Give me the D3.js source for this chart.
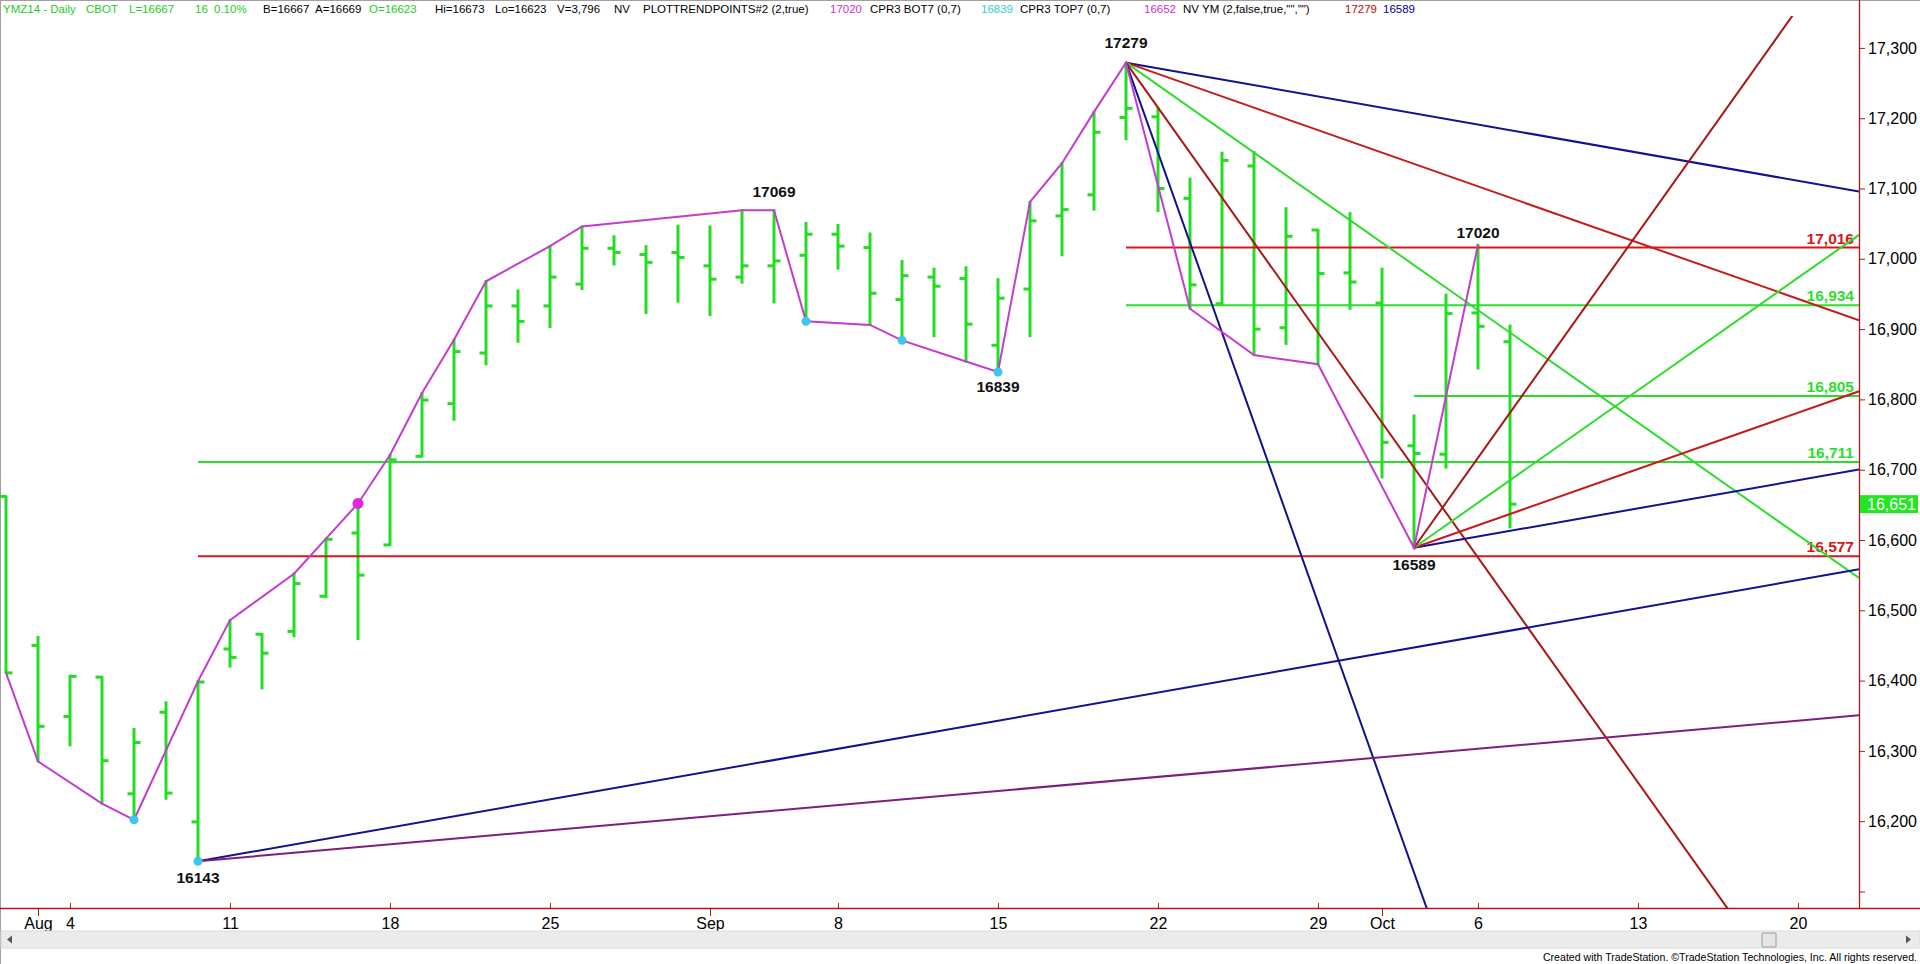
<!DOCTYPE html>
<html><head><meta charset="utf-8">
<script src="https://cdn.jsdelivr.net/npm/d3@7"></script>
<style>
html,body{margin:0;padding:0;background:#fff;overflow:hidden}
svg{display:block;font-family:"Liberation Sans",Arial,sans-serif}
</style></head><body>
<svg id="c" width="1920" height="964"></svg>
<script>
// ---------------- DATA ----------------
const barDates = ["Jul 31","Aug 1","Aug 4","Aug 5","Aug 6","Aug 7","Aug 8","Aug 11","Aug 12","Aug 13","Aug 14","Aug 15","Aug 18","Aug 19","Aug 20","Aug 21","Aug 22","Aug 25","Aug 26","Aug 27","Aug 28","Aug 29","Sep 2","Sep 3","Sep 4","Sep 5","Sep 8","Sep 9","Sep 10","Sep 11","Sep 12","Sep 15","Sep 16","Sep 17","Sep 18","Sep 19","Sep 22","Sep 23","Sep 24","Sep 25","Sep 26","Sep 29","Sep 30","Oct 1","Oct 2","Oct 3","Oct 6","Oct 7"];
const opens  = [16662,16450,16349,16405,16239,16355,16199,16445,16466,16470,16520,16610,16593,16719,16794,16866,16933,16933,16964,17015,17006,17009,16990,16974,16990,17005,17035,17016,16942,16974,16972,16877,16957,17061,17091,17201,17202,17086,16936,17132,16902,17041,16980,16937,16734,16722,16923,16882];
const highs  = [16662,16462,16407,16405,16331,16369,16399,16486,16466,16552,16602,16652,16721,16809,16885,16968,16955,17018,17046,17032,17018,17047,17046,17069,17069,17051,17048,17036,16997,16986,16988,16971,17081,17136,17209,17279,17214,17114,17151,17152,17072,17041,17065,16986,16777,16949,17020,16905];
const lows   = [16411,16285,16308,16225,16202,16232,16143,16420,16389,16463,16519,16459,16593,16719,16771,16850,16882,16903,16957,16992,16923,16939,16920,16966,16938,16911,16986,16906,16884,16890,16854,16839,16890,17005,17070,17170,17068,16929,16936,16863,16879,16850,16929,16689,16589,16703,16844,16618];
const closes = [16411,16335,16406,16286,16312,16240,16398,16433,16439,16538,16601,16550,16714,16799,16868,16933,16911,16974,17015,17009,16995,17002,16971,16990,16997,17035,17018,16951,16976,16961,16907,16944,17054,17070,17180,17214,17100,16963,17140,16900,17032,16979,16967,16739,16723,16922,16904,16651];

const xTickIdx    = [1,2,7,12,17,22,26,31,36,41,43,46,51,56];
const xTickLabels = ["Aug","4","11","18","25","Sep","8","15","22","29","Oct","6","13","20"];
const monthTickIdx = [1,22,43];

const yTickValues = [16100,16200,16300,16400,16500,16600,16700,16800,16900,17000,17100,17200,17300];
const yTickLabels = ["","16,200","16,300","16,400","16,500","16,600","16,700","16,800","16,900","17,000","17,100","17,200","17,300"];

const swingIdx = [0,1,3,4,6,7,9,10,11,12,13,14,15,17,18,23,24,25,27,28,30,31,32,33,34,35,37,39,41,44,46];
const swingVal = [16411,16285,16225,16202,16399,16486,16552,16602,16652,16721,16809,16885,16968,17018,17046,17069,17069,16911,16906,16884,16854,16839,17081,17136,17209,17279,16929,16863,16850,16589,17020];

const lowDotIdx = [4,6,25,28,31];
const lowDotVal = [16202,16143,16911,16884,16839];
const highDotIdx = [11];
const highDotVal = [16652];

const pivotIdx = [6,24,31,35,46,44];
const pivotVal = [16143,17069,16839,17279,17020,16589];

const fanAnchorIdx = [35,35,35,35,35,44,44,44,44,6,6];
const fanAnchorVal = [17279,17279,17279,17279,17279,16589,16589,16589,16589,16143,16143];
const fanSlope     = [-8,-16,-32,-64,-128,8,16,32,64,8,4];

const levelValues   = [17016,16934,16805,16711,16577];
const levelStartIdx = [35,35,44,6,6];

const headerTexts = ["YMZ14 - Daily","CBOT","L=16667","16","0.10%","B=16667","A=16669","O=16623","Hi=16673","Lo=16623","V=3,796","NV","PLOTTRENDPOINTS#2 (2,true)","17020","CPR3 BOT7 (0,7)","16839","CPR3 TOP7 (0,7)","16652","NV YM (2,false,true,\"\",\"\")","17279","16589"];
const footerText = "Created with TradeStation. \u00A9TradeStation Technologies, Inc. All rights reserved.";

// ---------------- STYLE / LAYOUT ----------------
const C = {bar:"#22dd22", green:"#2edc2e", red:"#d81616", red2:"#c41c1c", dark:"#a81616",
  navy:"#12128e", purple:"#7d1f7d", mag:"#c43bcf", cyan:"#3ec6f0", magDot:"#e026e0", axis:"#b01818"};
const fanColor = [C.navy,C.red2,C.green,C.dark,C.navy,C.navy,C.red2,C.green,C.dark,C.navy,C.purple];
const levelColor = [C.red,C.green,C.green,C.green,C.red];
const pivotDy = [16,-19,15,-20,-12,17];
const headerX = [3,86,129,195,214,263,315,369,435,495,557,614,643,830,870,981,1020,1144,1183,1345,1383];
const headerColor = ["#22cc22","#22cc22","#22cc22","#22cc22","#22cc22","#000","#000","#22cc22","#000","#000","#000","#000","#000","#cc33cc","#000","#33cccc","#000","#cc33cc","#000","#cc0000","#000099"];

const plotRight = 1859, plotTop = 16, plotBottom = 908;
const svg = d3.select("#c");

const x = d3.scaleLinear().domain([-0.1875, 57.90625]).range([0, plotRight]);
const y = d3.scaleLinear().domain([16076.5, 17345.4]).range([plotBottom, plotTop]);

svg.append("defs").append("clipPath").attr("id","clip")
  .append("rect").attr("x",0).attr("y",plotTop).attr("width",plotRight).attr("height",plotBottom-plotTop);

// borders
svg.append("line").attr("x1",0).attr("x2",1920).attr("y1",0.5).attr("y2",0.5).attr("stroke","#a0a0a0");
svg.append("line").attr("x1",0.5).attr("x2",0.5).attr("y1",0).attr("y2",964).attr("stroke","#a0a0a0");

// ---------------- BARS ----------------
const bars = svg.append("g").attr("clip-path","url(#clip)");
const bd = barDates.map((d,i)=>({i,o:opens[i],h:highs[i],l:lows[i],c:closes[i]}));
const bg = bars.selectAll("g.bar").data(bd).join("g").attr("stroke",C.bar).attr("stroke-width",3);
bg.append("line").attr("x1",d=>x(d.i)).attr("x2",d=>x(d.i)).attr("y1",d=>y(d.h)-1).attr("y2",d=>y(d.l)+1);
bg.append("line").attr("x1",d=>x(d.i)-6.5).attr("x2",d=>x(d.i)).attr("y1",d=>y(d.o)).attr("y2",d=>y(d.o));
bg.append("line").attr("x1",d=>x(d.i)).attr("x2",d=>x(d.i)+6.5).attr("y1",d=>y(d.c)).attr("y2",d=>y(d.c));

// ---------------- LEVELS ----------------
const lv = svg.append("g");
levelValues.forEach((v,k)=>{
  lv.append("line").attr("x1",x(levelStartIdx[k])).attr("x2",plotRight)
    .attr("y1",y(v)).attr("y2",y(v)).attr("stroke",levelColor[k]).attr("stroke-width",2);
});

// ---------------- FANS ----------------
const fg = svg.append("g").attr("clip-path","url(#clip)");
const endIdx = x.domain()[1];
fanAnchorIdx.forEach((a,k)=>{
  const v0 = fanAnchorVal[k], v1 = v0 + fanSlope[k]*(endIdx - a);
  fg.append("line").attr("x1",x(a)).attr("y1",y(v0)).attr("x2",x(endIdx)).attr("y2",y(v1))
    .attr("stroke",fanColor[k]).attr("stroke-width",2);
});

// level labels
levelValues.forEach((v,k)=>{
  lv.append("text").attr("x",1854).attr("y",y(v)-4).attr("text-anchor","end")
    .attr("font-size",15.5).attr("font-weight","bold").attr("fill",levelColor[k]).text(d3.format(",")(v));
});

// ---------------- SWING LINE ----------------
const sw = swingIdx.map((d,i)=>[d,swingVal[i]]);
svg.append("path").datum(sw).attr("fill","none").attr("stroke",C.mag).attr("stroke-width",2)
  .attr("d",d3.line().x(d=>x(d[0])).y(d=>y(d[1])));

svg.append("g").selectAll("circle").data(lowDotIdx.map((d,i)=>[d,lowDotVal[i]])).join("circle")
  .attr("cx",d=>x(d[0])).attr("cy",d=>y(d[1])).attr("r",4.5).attr("fill",C.cyan);
svg.append("g").selectAll("circle").data(highDotIdx.map((d,i)=>[d,highDotVal[i]])).join("circle")
  .attr("cx",d=>x(d[0])).attr("cy",d=>y(d[1])).attr("r",5.5).attr("fill",C.magDot);

// pivot labels
svg.append("g").selectAll("text").data(pivotIdx.map((d,i)=>[d,pivotVal[i],pivotDy[i]])).join("text")
  .attr("x",d=>x(d[0])).attr("y",d=>y(d[1])+d[2]).attr("dy","0.35em").attr("text-anchor","middle")
  .attr("font-size",15.5).attr("font-weight","bold").attr("fill","#111").text(d=>d[1]);

// ---------------- AXES ----------------
const ya = svg.append("g").attr("transform",`translate(${plotRight},0)`)
  .call(d3.axisRight(y).tickValues(yTickValues).tickFormat((d,i)=>yTickLabels[i]).tickSize(6).tickSizeOuter(0).tickPadding(3));
ya.select(".domain").remove();
ya.selectAll(".tick line").attr("stroke",C.axis);
ya.selectAll(".tick text").attr("font-size",16).attr("font-family","Liberation Sans, Arial, sans-serif").attr("fill","#000");
svg.append("line").attr("x1",plotRight+0.5).attr("x2",plotRight+0.5).attr("y1",0).attr("y2",plotBottom).attr("stroke",C.axis).attr("stroke-width",1.3);

const xa = svg.append("g").attr("transform",`translate(0,${plotBottom})`)
  .call(d3.axisBottom(x).tickValues(xTickIdx).tickFormat((d,i)=>xTickLabels[i]).tickSize(-5).tickSizeOuter(0));
xa.select(".domain").remove();
xa.selectAll(".tick line").attr("stroke",C.axis);
xa.selectAll(".tick").filter(d=>monthTickIdx.includes(d)).select("line").attr("y2",8);
xa.selectAll(".tick text").attr("y",15).attr("dy","0.35em").attr("font-size",16)
  .attr("font-family","Liberation Sans, Arial, sans-serif").attr("fill","#000");
svg.append("line").attr("x1",0).attr("x2",1920).attr("y1",plotBottom+0.5).attr("y2",plotBottom+0.5).attr("stroke",C.axis).attr("stroke-width",1.3);

// last value marker
const last = closes[closes.length-1];
svg.append("rect").attr("x",plotRight+1).attr("y",y(last)-9).attr("width",58).attr("height",18).attr("fill","#22e622");
svg.append("text").attr("x",plotRight+8).attr("y",y(last)).attr("dy","0.36em").attr("font-size",16).attr("fill","#fff").text(d3.format(",")(last));

// ---------------- SCROLLBAR / HEADER / FOOTER ----------------
svg.append("rect").attr("x",1).attr("y",931).attr("width",1919).attr("height",17).attr("fill","#ebebeb").attr("stroke","#dcdcdc");
svg.append("path").attr("d","M12,935.5 L7,939.5 L12,943.5 Z").attr("fill","#555");
svg.append("path").attr("d","M1906,935.5 L1911,939.5 L1906,943.5 Z").attr("fill","#555");
svg.append("rect").attr("x",1762).attr("y",933).attr("width",14).attr("height",14).attr("fill","#e4e4e4").attr("stroke","#9a9a9a").attr("rx",1);

svg.append("text").attr("x",1917).attr("y",961).attr("text-anchor","end").attr("font-size",10.6).attr("fill","#000").text(footerText);

const hg = svg.append("g").attr("font-size",11.5);
headerTexts.forEach((t,k)=>{
  hg.append("text").attr("x",headerX[k]).attr("y",13).attr("fill",headerColor[k]).text(t);
});
</script>
</body></html>
